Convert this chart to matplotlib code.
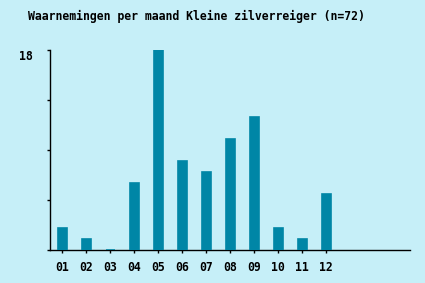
import matplotlib
matplotlib.use("Agg")
import matplotlib.pyplot as plt
import numpy as np

months = ['01', '02', '03', '04', '05', '06', '07', '08', '09', '10', '11', '12']
counts = [2, 1, 0, 6, 18, 8, 7, 10, 12, 2, 1, 5]
title = 'Waarnemingen per maand Kleine zilverreiger (n=72)'

bg = '#c6eff8'
bar_col = '#0086a6'
font = 'DejaVu Sans Mono'

fig = plt.figure(figsize=(4.25, 2.83), dpi=100, facecolor=bg)
ax = fig.add_axes([50/425, 1-250/283, 360/425, 200/283])
ax.set_facecolor(bg)

x = np.arange(len(months)) + 0.5
# thin edge so a zero month still shows as a flat line, like the original
ax.bar(x, counts, width=0.375, color=bar_col, edgecolor=bar_col,
       linewidth=1.2, zorder=3)

ax.set_xlim(0, 15)
ax.set_ylim(0, 18)
ax.set_xticks(x)
ax.set_xticklabels(months, fontfamily=font, fontweight='bold', fontsize=8.3)
ax.set_yticks([0, 4.5, 9, 13.5, 18])
ax.set_yticklabels([])
ax.tick_params(axis='x', length=2.5, width=1, pad=5.5)
ax.tick_params(axis='y', length=2.5, width=1)
for s in ['top', 'right']:
    ax.spines[s].set_visible(False)
for s in ['left', 'bottom']:
    ax.spines[s].set_linewidth(1)
ax.spines['bottom'].set_zorder(2)

fig.text(33/425, 1-57/283, '18', ha='right', va='center',
         fontfamily=font, fontweight='bold', fontsize=8.3)
fig.text(28/425, 1-16/283, title, ha='left', va='center',
         fontfamily=font, fontweight='bold', fontsize=8.3)

fig.savefig('out.png', dpi=100, facecolor=bg)
